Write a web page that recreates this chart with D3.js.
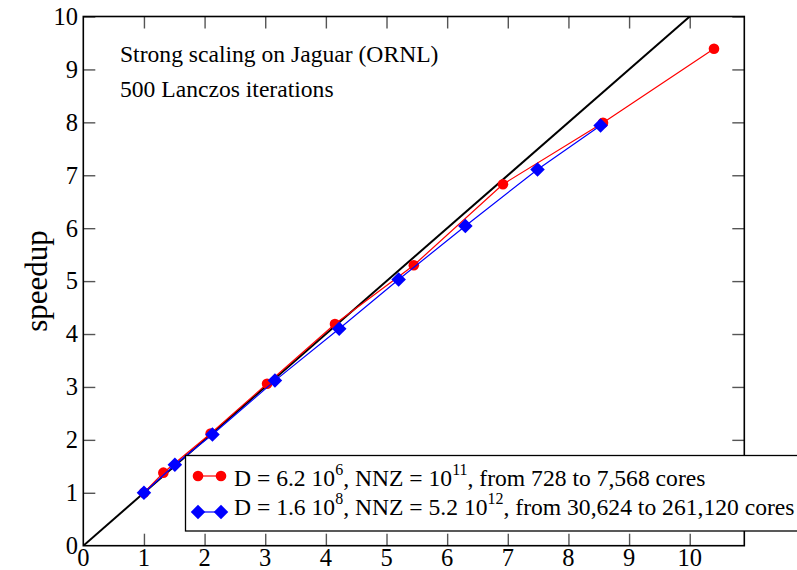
<!DOCTYPE html>
<html>
<head>
<meta charset="utf-8">
<script src="https://cdn.jsdelivr.net/npm/d3@7"></script>
<style>
  html, body { margin: 0; padding: 0; background: #fff; }
  svg { display: block; }
  text { font-family: "Liberation Serif", "Times New Roman", serif; fill: #000; }
</style>
</head>
<body>
<svg id="chart" width="797" height="570"></svg>
<script>
// Strong-scaling speedup measurements (speedup relative to the smallest run)
const redX = [1, 1.32, 2.10, 3.03, 4.15, 5.45, 6.92, 8.57, 10.40];
const redY = [1, 1.38, 2.12, 3.06, 4.19, 5.30, 6.83, 7.99, 9.39];
const blueX = [1, 1.51, 2.13, 3.16, 4.22, 5.20, 6.30, 7.49, 8.53];
const blueY = [1, 1.53, 2.10, 3.12, 4.10, 5.03, 6.04, 7.11, 7.94];
const idealX = [0, 10];
const idealY = [0, 10];
const xTicks = [0, 1, 2, 3, 4, 5, 6, 7, 8, 9, 10];
const yTicks = [0, 1, 2, 3, 4, 5, 6, 7, 8, 9, 10];
const titleLines = ["Strong scaling on Jaguar (ORNL)", "500 Lanczos iterations"];
const legendRows = [
  { parts: [["D = 6.2 10", 0], ["6", 1], [", NNZ = 10", 0], ["11", 1], [", from 728 to 7,568 cores", 0]], color: "#ff0000", shape: "circle" },
  { parts: [["D = 1.6 10", 0], ["8", 1], [", NNZ = 5.2 10", 0], ["12", 1], [", from 30,624 to 261,120 cores", 0]], color: "#0000ff", shape: "diamond" }
];

const svg = d3.select("#chart");
const L = 83.3, R = 744.3, T = 16.5, B = 545.7;

const x = d3.scaleLinear().domain([0, 10.9]).range([L, R]);
const y = d3.scaleLinear().domain([0, 10]).range([B, T]);

svg.append("defs").append("clipPath").attr("id", "plotclip")
  .append("rect").attr("x", L).attr("y", T).attr("width", R - L).attr("height", B - T);

// inward ticks on all four sides
const tickLen = 12;
const tickColor = "#555";
const axB = d3.axisTop(x).tickValues(xTicks.filter(d => d > 0)).tickSize(tickLen).tickFormat("");
const axT = d3.axisBottom(x).tickValues(xTicks.filter(d => d > 0)).tickSize(tickLen).tickFormat("");
const axL = d3.axisRight(y).tickValues(yTicks.filter(d => d > 0)).tickSize(tickLen).tickFormat("");
const axR = d3.axisLeft(y).tickValues(yTicks.filter(d => d > 0)).tickSize(tickLen).tickFormat("");

function styleAxis(g) {
  g.select(".domain").remove();
  g.selectAll(".tick line").attr("stroke", tickColor).attr("stroke-width", 1.4);
}
svg.append("g").attr("transform", `translate(0,${B})`).call(axB).call(styleAxis);
svg.append("g").attr("transform", `translate(0,${T})`).call(axT).call(styleAxis);
svg.append("g").attr("transform", `translate(${L},0)`).call(axL).call(styleAxis);
svg.append("g").attr("transform", `translate(${R},0)`).call(axR).call(styleAxis);

// tick labels
svg.append("g").selectAll("text").data(xTicks).join("text")
  .attr("x", d => x(d)).attr("y", 566)
  .attr("text-anchor", "middle")
  .attr("font-size", 24.5)
  .text(d => d);
svg.append("g").selectAll("text").data(yTicks).join("text")
  .attr("x", 78).attr("y", d => y(d))
  .attr("dy", "0.34em")
  .attr("text-anchor", "end")
  .attr("font-size", 24.5)
  .text(d => d);

// frame
svg.append("rect")
  .attr("x", L).attr("y", T).attr("width", R - L).attr("height", B - T)
  .attr("fill", "none").attr("stroke", "#000").attr("stroke-width", 1.6);

// axis title
svg.append("text")
  .attr("transform", "translate(47,281) rotate(-90)")
  .attr("text-anchor", "middle")
  .attr("font-size", 31)
  .text("speedup");

// annotation
svg.append("g").selectAll("text").data(titleLines).join("text")
  .attr("x", 120).attr("y", (d, i) => 62 + i * 35)
  .attr("font-size", 23.6)
  .text(d => d);

const plot = svg.append("g").attr("clip-path", "url(#plotclip)");

// ideal scaling
const line = d3.line().x(d => x(d[0])).y(d => y(d[1]));
plot.append("path")
  .datum(d3.zip(idealX, idealY))
  .attr("d", line)
  .attr("fill", "none").attr("stroke", "#000").attr("stroke-width", 2);

const diamond = d3.symbol().type(d3.symbolDiamond2).size(135);

function drawSeries(xs, ys, color, shape) {
  const pts = d3.zip(xs, ys);
  plot.append("path").datum(pts).attr("d", line)
    .attr("fill", "none").attr("stroke", color).attr("stroke-width", 1.2);
  const g = plot.append("g");
  if (shape === "circle") {
    g.selectAll("circle").data(pts).join("circle")
      .attr("cx", d => x(d[0])).attr("cy", d => y(d[1])).attr("r", 5.3)
      .attr("fill", color);
  } else {
    g.selectAll("path").data(pts).join("path")
      .attr("transform", d => `translate(${x(d[0])},${y(d[1])})`)
      .attr("d", diamond)
      .attr("fill", color);
  }
}
drawSeries(redX, redY, "#ff0000", "circle");
drawSeries(blueX, blueY, "#0000ff", "diamond");

// legend
const lg = svg.append("g");
lg.append("rect")
  .attr("x", 185.5).attr("y", 455.5).attr("width", 700).attr("height", 75.5)
  .attr("fill", "#fff").attr("stroke", "#000").attr("stroke-width", 1.3);

legendRows.forEach((row, i) => {
  const cy = 476 + i * 36;
  const base = 486 + i * 29;
  lg.append("line").attr("x1", 198).attr("x2", 221).attr("y1", cy).attr("y2", cy)
    .attr("stroke", row.color).attr("stroke-width", 1.2);
  [198, 221].forEach(cx => {
    if (row.shape === "circle") {
      lg.append("circle").attr("cx", cx).attr("cy", cy).attr("r", 5.3).attr("fill", row.color);
    } else {
      lg.append("path").attr("transform", `translate(${cx},${cy})`).attr("d", diamond).attr("fill", row.color);
    }
  });
  const t = lg.append("text").attr("x", 234).attr("y", base).attr("font-size", 23.6);
  row.parts.forEach(([s, sup], j) => {
    const prev = j > 0 ? row.parts[j - 1][1] : 0;
    let dy = 0;
    if (sup && !prev) dy = -11;
    if (!sup && prev) dy = 11;
    const ts = t.append("tspan").attr("dy", dy).text(s);
    if (sup) ts.attr("font-size", 16);
  });
});
</script>
</body>
</html>
